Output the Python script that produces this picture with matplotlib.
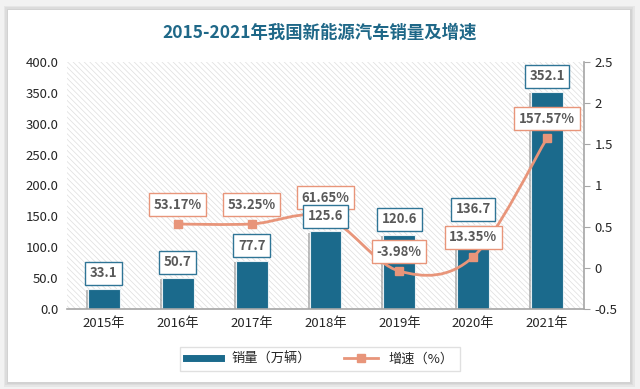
import matplotlib
matplotlib.use("Agg")
import matplotlib.pyplot as plt
import matplotlib.patheffects as pe
from matplotlib.path import Path
from matplotlib.patches import PathPatch, Rectangle
from matplotlib.lines import Line2D
import numpy as np

plt.rcParams['font.family'] = ['Noto Sans CJK SC', 'DejaVu Sans']
plt.rcParams['hatch.color'] = '#dedede'
plt.rcParams['hatch.linewidth'] = 0.5

# data
years = ['2015年', '2016年', '2017年', '2018年', '2019年', '2020年', '2021年']
sales = [33.1, 50.7, 77.7, 125.6, 120.6, 136.7, 352.1]
growth_years = ['2016年', '2017年', '2018年', '2019年', '2020年', '2021年']
growth = [0.5317, 0.5325, 0.6165, -0.0398, 0.1335, 1.5757]
growth_labels = ['53.17%', '53.25%', '61.65%', '-3.98%', '13.35%', '157.57%']

bar_color = '#1b6a8c'
line_color = '#e8957a'
text_color = '#595959'

fig = plt.figure(figsize=(6.4, 3.89), dpi=100)
fig.patch.set_facecolor('#f2f2f2')
# card with soft shadow
for i, c in enumerate(['#e6e6e6', '#dcdcdc', '#d2d2d2']):
    d = (3 - i) * 1.5
    fig.add_artist(Rectangle(((8 - d) / 640, (7 - d) / 389), (622 + 2 * d) / 640, (372 + 2 * d) / 389,
                             transform=fig.transFigure, facecolor=c, edgecolor='none', zorder=0))
fig.add_artist(Rectangle((8 / 640, 7 / 389), 622 / 640, 372 / 389,
                         transform=fig.transFigure, facecolor='white', edgecolor='none', zorder=0))

fig.text(0.5, 1 - 33 / 389, '2015-2021年我国新能源汽车销量及增速', ha='center', va='center',
         fontsize=12.5, fontweight='bold', color='#1f6888')

ax = fig.add_axes([67 / 640, 1 - 309 / 389, (584 - 67) / 640, (309 - 62) / 389])
ax.set_zorder(1)
ax.patch.set_facecolor('white')
ax.patch.set_hatch('\\\\\\\\\\\\')
ax.patch.set_edgecolor('#dedede')
ax.patch.set_linewidth(0)

x = np.arange(len(years))
bars = ax.bar(x, sales, width=0.43, color=bar_color, edgecolor='#e8f0f4', linewidth=0.8, zorder=2)
for b in bars:
    b.set_path_effects([pe.SimplePatchShadow(offset=(-1.5, -1), shadow_rgbFace='#7f7f7f', alpha=0.5), pe.Normal()])
ax.set_ylim(0, 400)
ax.set_yticks(np.arange(0, 401, 50))
ax.set_yticklabels([f'{v:.1f}' for v in np.arange(0, 401, 50)])
ax.set_xlim(-0.5, len(years) - 0.5)
ax.set_xticks(x)
ax.set_xticklabels(years)
ax.tick_params(axis='y', length=0, labelsize=9.5, labelcolor='#262626', pad=6)
ax.tick_params(axis='x', length=0, labelsize=9.5, labelcolor='#262626', pad=6)
for s in ['top', 'left', 'right']:
    ax.spines[s].set_visible(False)
ax.spines['bottom'].set_color('#a6a6a6')
ax.spines['bottom'].set_linewidth(1.2)

ax2 = ax.twinx()
ax2.set_zorder(2)
ax2.patch.set_visible(False)
ax2.set_ylim(-0.5, 2.5)
ax2.set_yticks([-0.5, 0, 0.5, 1, 1.5, 2, 2.5])
ax2.set_yticklabels(['-0.5', '0', '0.5', '1', '1.5', '2', '2.5'])
ax2.tick_params(axis='y', direction='out', length=4, color='#a6a6a6', labelsize=9.5, labelcolor='#262626')
for s in ['top', 'left', 'bottom']:
    ax2.spines[s].set_visible(False)
ax2.spines['right'].set_color('#a6a6a6')
ax2.spines['right'].set_linewidth(1.2)

# smoothed line (Catmull-Rom as Bezier)
gx = np.array([years.index(y) for y in growth_years], dtype=float)
gy = np.array(growth)
pts = np.column_stack([gx, gy])
ext = np.vstack([pts[0], pts, pts[-1]])
verts = [tuple(pts[0])]
codes = [Path.MOVETO]
for i in range(1, len(ext) - 2):
    p0, p1, p2, p3 = ext[i - 1], ext[i], ext[i + 1], ext[i + 2]
    c1 = p1 + (p2 - p0) / 6
    c2 = p2 - (p3 - p1) / 6
    verts += [tuple(c1), tuple(c2), tuple(p2)]
    codes += [Path.CURVE4] * 3
ax2.add_patch(PathPatch(Path(verts, codes), facecolor='none', edgecolor=line_color, linewidth=2, zorder=3))
ax2.plot(gx, gy, linestyle='none', marker='s', markersize=6, color=line_color, zorder=4)

# bar value labels drawn on the top axes so they sit above the line
for xi, v in zip(x, sales):
    ax2.annotate(f'{v}', (xi, v), xycoords=ax.transData, xytext=(0, 11), textcoords='offset points',
                 ha='center', va='center', fontsize=9.5, fontweight='bold', color=text_color, zorder=6,
                 bbox=dict(boxstyle='square,pad=0.35', facecolor='white', edgecolor='#2f7596', linewidth=1))

for xi, v, lab in zip(gx, gy, growth_labels):
    ax2.annotate(lab, (xi, v), xytext=(0, 14), textcoords='offset points', ha='center', va='center',
                 fontsize=9.5, fontweight='bold', color=text_color, zorder=5,
                 bbox=dict(boxstyle='square,pad=0.35', facecolor='white', edgecolor=line_color, linewidth=1))

handles = [Line2D([], [], color=bar_color, linewidth=5),
           Line2D([], [], color=line_color, linewidth=2, marker='s', markersize=6)]
fig.legend(handles, ['销量（万辆）', '增速（%）'], loc='center', bbox_to_anchor=(0.5, 1 - 359 / 389),
           ncol=2, frameon=True, fancybox=False, edgecolor='#d9d9d9', fontsize=9.5,
           handlelength=2.6, columnspacing=2.5, borderpad=0.45, labelcolor='#262626')

fig.savefig('out.png', dpi=100, facecolor=fig.get_facecolor())
